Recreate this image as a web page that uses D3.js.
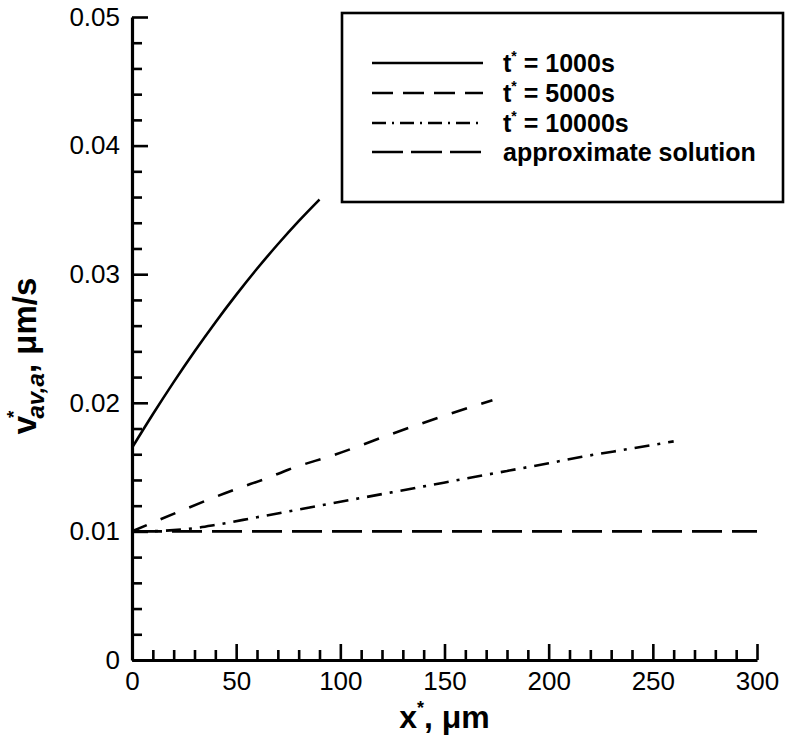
<!DOCTYPE html>
<html>
<head>
<meta charset="utf-8">
<script src="https://cdn.jsdelivr.net/npm/d3@7/dist/d3.min.js"></script>
<style>
  body { margin: 0; background: #fff; }
  svg text { font-family: "Liberation Sans", Arial, Helvetica, sans-serif; fill: #000; }
</style>
</head>
<body>
<div id="chart"></div>
<script>
var w = 790, h = 748;
var margin = {top: 17, right: 33, bottom: 88, left: 132};

// data
var x1000 = [0, 10, 20, 30, 40, 50, 60, 70, 80, 90];
var v1000 = [0.0165, 0.01911, 0.02161, 0.02399, 0.02625, 0.02839, 0.03042, 0.03233, 0.03413, 0.03581];

var x5000 = [0, 25, 50, 65, 75, 98, 125, 150, 173];
var v5000 = [0.0100, 0.0117, 0.0133, 0.01415, 0.0148, 0.0160, 0.0176, 0.0190, 0.0202];

var x10000 = [0, 10, 20, 30, 40, 60, 80, 100, 120, 140, 160, 180, 200, 216, 240, 260];
var v10000 = [0.0100, 0.01002, 0.0101, 0.01025, 0.0105, 0.0111, 0.0117, 0.0123, 0.0129, 0.0135, 0.0141, 0.0147, 0.0153, 0.0158, 0.01645, 0.0170];

var xApprox = [0, 300];
var vApprox = [0.01, 0.01];

var xTicks = [0, 50, 100, 150, 200, 250, 300];
var yTicks = [0, 0.01, 0.02, 0.03, 0.04, 0.05];

var labels = ["1000s", "5000s", "10000s", "approximate solution"];

var x = d3.scaleLinear().domain([0, 300]).range([margin.left, w - margin.right]);
var y = d3.scaleLinear().domain([0, 0.05]).range([h - margin.bottom, margin.top]);

var svg = d3.select("#chart").append("svg")
    .attr("width", w)
    .attr("height", h);

var series = [
  {xs: x1000, vs: v1000, dash: null, legDash: null},
  {xs: x5000, vs: v5000, dash: "16,15", legDash: "21,10"},
  {xs: x10000, vs: v10000, dash: "15,8,3,8", legDash: "14,6,2,6"},
  {xs: xApprox, vs: vApprox, dash: "30,10", legDash: "31,8"}
];

var line = d3.line()
  .x(function(d) { return x(d[0]); })
  .y(function(d) { return y(d[1]); })
  .curve(d3.curveMonotoneX);

series.forEach(function(s) {
  var p = svg.append("path")
    .datum(s.xs.map(function(v, i) { return [v, s.vs[i]]; }))
    .attr("d", line)
    .attr("fill", "none")
    .attr("stroke", "#000")
    .attr("stroke-width", 2.6)
    .attr("stroke-dasharray", s.dash);
});

// minor ticks
var xMinor = d3.range(0, 301, 10).filter(function(d) { return d % 50 != 0; });
var yMinor = d3.range(0, 26).map(function(d) { return d * 0.002; }).filter(function(d, i) { return i % 5 != 0; });

svg.append("g")
  .attr("transform", "translate(0," + (h - margin.bottom) + ")")
  .call(d3.axisBottom(x).tickValues(xMinor).tickSize(-10).tickSizeOuter(0).tickFormat(""))
  .call(function(g) { g.select(".domain").remove(); });
svg.append("g")
  .attr("transform", "translate(" + margin.left + ",0)")
  .call(d3.axisLeft(y).tickValues(yMinor).tickSize(-10).tickSizeOuter(0).tickFormat(""))
  .call(function(g) { g.select(".domain").remove(); });

var xAxis = svg.append("g")
  .attr("transform", "translate(0," + (h - margin.bottom) + ")")
  .call(d3.axisBottom(x).tickValues(xTicks).tickSize(-16).tickSizeOuter(0).tickPadding(12));
var yAxis = svg.append("g")
  .attr("transform", "translate(" + margin.left + ",0)")
  .call(d3.axisLeft(y).tickValues(yTicks).tickSize(-16).tickSizeOuter(0).tickPadding(12)
    .tickFormat(function(d) { return d === 0 ? "0" : d3.format(".2f")(d); }));

svg.selectAll(".tick line").attr("stroke", "#000").attr("stroke-width", 2.6);
svg.selectAll(".domain").attr("stroke", "#000").attr("stroke-width", 3.2);
xAxis.selectAll(".tick text").attr("font-size", 26).attr("dy", "0.7em");
yAxis.selectAll(".tick text").attr("font-size", 26);

// legend
var leg = svg.append("g");
leg.append("rect")
  .attr("x", 342).attr("y", 13).attr("width", 441).attr("height", 189)
  .attr("fill", "#fff").attr("stroke", "#000").attr("stroke-width", 2.6);

var rowY = [63, 93, 123, 152];
series.forEach(function(s, i) {
  leg.append("line")
    .attr("x1", 372).attr("x2", 483)
    .attr("y1", rowY[i]).attr("y2", rowY[i])
    .attr("stroke", "#000").attr("stroke-width", 2.6)
    .attr("stroke-dasharray", s.legDash);
  var t = leg.append("text")
    .attr("x", 503).attr("y", rowY[i] + 9)
    .attr("font-size", 25).attr("font-weight", "bold");
  if (i < 3) {
    t.append("tspan").text("t");
    t.append("tspan").attr("font-size", 14).attr("dy", -11).text("*");
    t.append("tspan").attr("dy", 11).text(" = " + labels[i]);
  } else {
    t.text(labels[i]);
  }
});

// axis titles
var xt = svg.append("text")
  .attr("x", (margin.left + w - margin.right) / 2)
  .attr("y", 728)
  .attr("text-anchor", "middle")
  .attr("font-size", 32).attr("font-weight", "bold");
xt.append("tspan").text("x");
xt.append("tspan").attr("font-size", 18).attr("dy", -14).text("*");
xt.append("tspan").attr("dy", 14).text(", \u03bcm");

var yt = svg.append("text")
  .attr("transform", "translate(36," + 356 + ") rotate(-90)")
  .attr("text-anchor", "middle")
  .attr("font-size", 33).attr("font-weight", "bold");
yt.append("tspan").text("v");
yt.append("tspan").attr("font-size", 19).attr("dy", -16).attr("dx", -2).text("*");
yt.append("tspan").attr("font-size", 24).attr("font-style", "italic").attr("dy", 24).attr("dx", -8).text("av,a");
yt.append("tspan").attr("dy", -8).text(", \u03bcm/s");
</script>
</body>
</html>
